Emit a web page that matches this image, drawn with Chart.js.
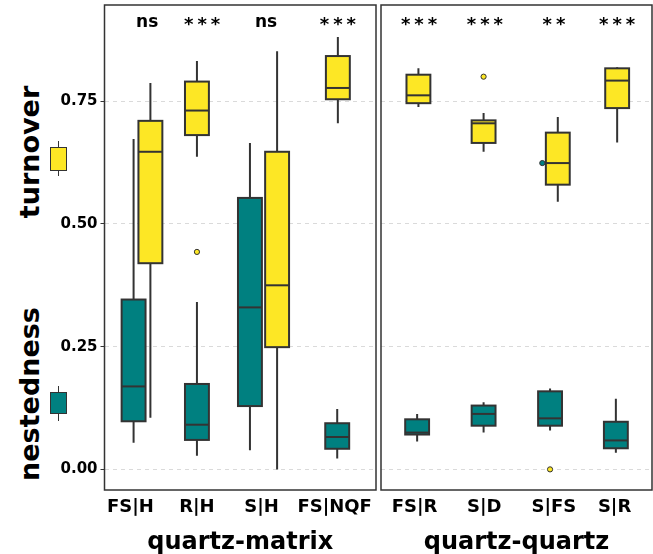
<!DOCTYPE html>
<html>
<head>
<meta charset="utf-8">
<script src="https://cdn.jsdelivr.net/npm/chart.js@4.4.0/dist/chart.umd.min.js"></script>
<style>
  body { margin:0; background:#fff; width:653px; height:554px; overflow:hidden; position:relative; font-family:"DejaVu Sans", sans-serif; }
  #c1 { position:absolute; left:0; top:0; }
  #c2 { position:absolute; left:376px; top:0; }
  .ytitle { position:absolute; font-weight:bold; font-size:27px; color:#000; white-space:nowrap;
            transform:translate(-50%,-50%) rotate(-90deg); }
  .whisk { position:absolute; width:1px; background:#333; }
  .key { position:absolute; box-sizing:border-box; border:1px solid #333; }
</style>
</head>
<body>
<div class="ytitle" style="left:29px; top:152px;">turnover</div>
<div class="ytitle" style="left:29px; top:394px;">nestedness</div>
<div class="whisk" style="left:58px; top:141px; height:35px;"></div>
<div class="key" style="left:50px; top:147px; width:17px; height:24px; background:#FDE725;"></div>
<div class="whisk" style="left:58px; top:386px; height:35px;"></div>
<div class="key" style="left:50px; top:392px; width:17px; height:22px; background:#008080;"></div>
<canvas id="c1" width="381" height="554"></canvas>
<canvas id="c2" width="281" height="554"></canvas>
<script>
// categories
var matrixCats = ['FS|H', 'R|H', 'S|H', 'FS|NQF'];
var quartzCats = ['FS|R', 'S|D', 'S|FS', 'S|R'];
var yTicks = [0, 0.25, 0.5, 0.75];

// five-number summaries [min, q1, median, q3, max]
var matrixTurnover = [[0.105, 0.420, 0.647, 0.710, 0.787], [0.637, 0.681, 0.731, 0.790, 0.832],
                      [0.000, 0.249, 0.375, 0.647, 0.852], [0.705, 0.754, 0.777, 0.842, 0.881]];
var matrixNested   = [[0.054, 0.098, 0.169, 0.346, 0.673], [0.028, 0.060, 0.091, 0.174, 0.341],
                      [0.039, 0.129, 0.330, 0.553, 0.665], [0.022, 0.042, 0.066, 0.094, 0.123]];
var quartzTurnover = [[0.738, 0.746, 0.762, 0.804, 0.817], [0.647, 0.665, 0.705, 0.711, 0.726],
                      [0.545, 0.580, 0.624, 0.686, 0.718], [0.666, 0.736, 0.792, 0.817, 0.819]];
var quartzNested   = [[0.057, 0.071, 0.075, 0.102, 0.113], [0.075, 0.089, 0.113, 0.130, 0.137],
                      [0.079, 0.089, 0.104, 0.159, 0.165], [0.034, 0.043, 0.059, 0.097, 0.144]];

// outliers per category
var matrixTurnoverOut = [[], [0.443], [], []];
var matrixNestedOut   = [[], [], [], []];
var quartzTurnoverOut = [[], [0.800], [0.0], []];
var quartzNestedOut   = [[], [], [0.624], []];

// significance labels
var matrixSig = ['ns', '***', 'ns', '***'];
var quartzSig = ['***', '***', '**', '***'];

// placement on the x axis (category units)
var matrixTickX = [0.80, 1.83, 2.83, 3.96];
var matrixTurnoverX = [1.11, 1.83, 3.07, 4.01];
var matrixNestedX = [0.85, 1.83, 2.65, 4.00];
var matrixSigX = [1.06, 1.91, 2.90, 4.01];
var quartzTickX = [0.92, 2.00, 3.08, 4.02];
var quartzTurnoverX = [0.98, 1.99, 3.14, 4.06];
var quartzNestedX = [0.96, 1.99, 3.02, 4.04];
var quartzOutShift = [0, 0, -0.12, 0];
var quartzSigX = [0.99, 2.01, 3.08, 4.06];

var YELLOW = '#FDE725', TEAL = '#008080', INK = '#333333';

function outPoints(outs, xs, shift) {
  var pts = [];
  outs.forEach(function (vals, i) {
    vals.forEach(function (v) { pts.push({x: xs[i] + (shift ? shift[i] : 0), y: v}); });
  });
  return pts;
}

function noPad(s) {
  s.paddingTop = 0; s.paddingBottom = 0; s.paddingLeft = 0; s.paddingRight = 0;
}

function boxPlugin(series, sig, sigX) {
  return {
    id: 'boxes',
    beforeDatasetsDraw: function (chart) {
      var ctx = chart.ctx, x = chart.scales.x, y = chart.scales.y;
      var half = (x.getPixelForValue(0.37) - x.getPixelForValue(0)) / 2;
      ctx.save();
      ctx.strokeStyle = INK;
      ctx.lineWidth = 2;
      series.forEach(function (s) {
        s.stats.forEach(function (st, i) {
          var cx = x.getPixelForValue(s.pos[i]);
          var p = st.map(function (v) { return y.getPixelForValue(v); });
          ctx.beginPath();
          ctx.moveTo(cx, p[4]); ctx.lineTo(cx, p[3]);
          ctx.moveTo(cx, p[1]); ctx.lineTo(cx, p[0]);
          ctx.stroke();
          ctx.fillStyle = s.color;
          ctx.fillRect(cx - half, p[3], 2 * half, p[1] - p[3]);
          ctx.strokeRect(cx - half, p[3], 2 * half, p[1] - p[3]);
          ctx.beginPath();
          ctx.moveTo(cx - half, p[2]); ctx.lineTo(cx + half, p[2]);
          ctx.stroke();
        });
      });
      ctx.restore();
    },
    afterDraw: function (chart) {
      var ctx = chart.ctx, a = chart.chartArea, x = chart.scales.x;
      ctx.save();
      ctx.fillStyle = '#000';
      ctx.textAlign = 'center';
      ctx.textBaseline = 'middle';
      sig.forEach(function (t, i) {
        var star = t.charAt(0) === '*';
        ctx.font = star ? 'bold 18px "DejaVu Sans"' : 'bold 17px "DejaVu Sans"';
        ctx.letterSpacing = star ? '4px' : '0px';
        ctx.fillText(t, x.getPixelForValue(sigX[i]) + (star ? 2 : 0), a.top + (star ? 20 : 18));
      });
      ctx.strokeStyle = INK;
      ctx.lineWidth = 1.5;
      ctx.strokeRect(a.left, a.top, a.right - a.left, a.bottom - a.top);
      ctx.restore();
    }
  };
}

function makeChart(id, cats, tickX, title, showY, pad, datasets, plugin) {
  return new Chart(document.getElementById(id), {
    type: 'scatter',
    data: { datasets: datasets },
    options: {
      responsive: false,
      animation: false,
      layout: { padding: pad },
      plugins: { legend: { display: false }, tooltip: { enabled: false } },
      scales: {
        x: {
          type: 'linear', min: 0.4, max: 4.6,
          afterBuildTicks: function (s) { s.ticks = tickX.map(function (v) { return {value: v}; }); },
          afterFit: function (s) { s.height = 64; noPad(s); },
          grid: { display: false, drawTicks: false },
          border: { display: false },
          ticks: {
            autoSkip: false, maxRotation: 0, padding: 7, color: '#000',
            font: { family: 'DejaVu Sans', weight: 'bold', size: 18 },
            callback: function (v, i) { return cats[i]; }
          },
          title: { display: true, text: title, color: '#000', padding: { top: 4, bottom: -3 },
                   font: { family: 'DejaVu Sans', weight: 'bold', size: 24 } }
        },
        y: {
          type: 'linear', min: -0.042, max: 0.946,
          afterBuildTicks: function (s) { s.ticks = yTicks.map(function (v) { return {value: v}; }); },
          afterFit: function (s) { s.width = showY ? 104.5 : 0; noPad(s); },
          grid: { color: '#dadada', lineWidth: 1, tickColor: INK, tickLength: 4, tickWidth: 1,
                  drawTicks: showY, tickBorderDash: [] },
          border: { display: false, dash: [4, 4] },
          ticks: {
            display: showY, padding: 3, color: '#000',
            font: { family: 'DejaVu Sans', weight: 'bold', size: 15 },
            callback: function (v) { return v.toFixed(2); }
          }
        }
      }
    },
    plugins: [plugin]
  });
}

function pointSet(pts, color) {
  return { data: pts, pointRadius: 2.6, pointBorderWidth: 1, borderColor: INK,
           backgroundColor: color, pointBackgroundColor: color };
}

// chart.js keeps ~5px min padding for points, so the canvases overlap a little
makeChart('c1', matrixCats, matrixTickX, 'quartz-matrix', true,
  { left: 0, right: 5, top: 5, bottom: 0 },
  [pointSet(outPoints(matrixNestedOut, matrixNestedX), TEAL),
   pointSet(outPoints(matrixTurnoverOut, matrixTurnoverX), YELLOW)],
  boxPlugin([{ stats: matrixNested, pos: matrixNestedX, color: TEAL },
             { stats: matrixTurnover, pos: matrixTurnoverX, color: YELLOW }], matrixSig, matrixSigX));

makeChart('c2', quartzCats, quartzTickX, 'quartz-quartz', false,
  { left: 5, right: 5, top: 5, bottom: 0 },
  [pointSet(outPoints(quartzNestedOut, quartzNestedX, quartzOutShift), TEAL),
   pointSet(outPoints(quartzTurnoverOut, quartzTurnoverX, quartzOutShift), YELLOW)],
  boxPlugin([{ stats: quartzNested, pos: quartzNestedX, color: TEAL },
             { stats: quartzTurnover, pos: quartzTurnoverX, color: YELLOW }], quartzSig, quartzSigX));
</script>
</body>
</html>
